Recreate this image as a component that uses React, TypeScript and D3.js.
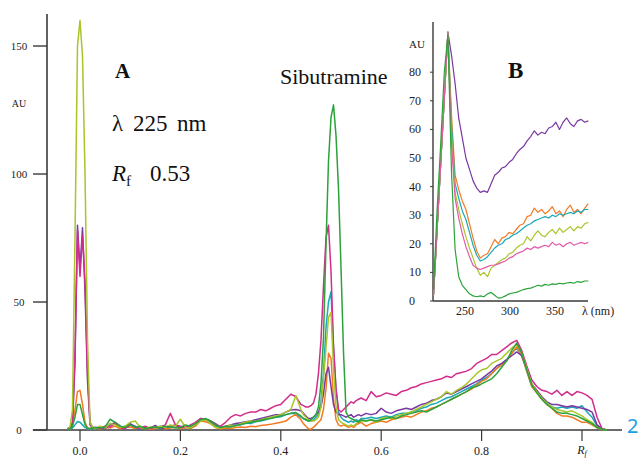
import React from "react";
import * as d3 from "d3";

// ---------- Panel A: densitograms (Rf vs AU) ----------
// Sample positions along the plate (Rf); denser around the two peaks
const rfGrid: number[] = [
  ...d3.range(12).map((i) => -0.025 + i * 0.005), // -0.025 .. 0.03
  ...d3.range(41).map((i) => 0.04 + i * 0.01), // 0.04 .. 0.44
  ...d3.range(24).map((i) => 0.445 + i * 0.005), // 0.445 .. 0.56
  ...d3.range(49).map((i) => 0.57 + i * 0.01), // 0.57 .. 1.05
];

const yellowA = [
  0.5, 1, 8, 75, 150, 160, 146, 100, 35, 3, 1, 0.5,
  1.5, 0.8, 2.5, 2, 1, 1.5, 3, 3.5, 1, 0.5, 1.2, 0.8, 1.5, 1, 2, 1.5, 4.2, 1, 0.8, 2,
  3.5, 4, 2.5, 1, 0.8, 1.2, 2, 1.5, 2.5, 3, 3.5, 3.2, 4, 4.5, 5, 5.5, 6, 7, 8, 13.5, 8,
  6, 5, 4, 3.5, 3.5, 4, 5, 9, 20, 32, 44, 46, 24, 9, 4, 3, 2.5, 2, 1.5, 2, 1.5, 2.5, 3, 3.5,
  3.5, 4, 3, 4.5, 5, 4.5, 5.5, 6, 6.5, 7, 8, 9, 10, 11, 12, 13, 15, 14, 15.5, 16.5,
  18, 20, 22, 23.5, 24, 26, 27, 28, 30, 32, 33.5, 30, 24, 18, 15, 12.5, 10.5, 9, 8, 7.5,
  7, 7.5, 6.5, 5.5, 4, 3, 1, 0.3, 0,
];
const magentaA = [
  0.5, 1, 3, 30, 78, 60, 76, 58, 22, 3, 1, 0.5,
  0.8, 1.5, 1.2, 2.5, 1, 0.5, 2, 1, 0.8, 1.5, 0.5, 1, 1.2, 2, 6.5, 2, 1.5, 1, 2, 3,
  4.5, 4, 3.5, 2, 1.5, 3, 5, 6, 5.5, 6.5, 7, 7, 8, 7.5, 8.5, 9.5, 10, 12, 14, 13, 10,
  9.5, 9, 9, 9.5, 10.5, 14, 22, 35, 56, 75, 80, 62, 33, 16, 8, 7, 8, 9, 10, 11, 10.5, 11.5, 12, 12.5,
  11.5, 15, 13, 13.5, 14.5, 14, 13.5, 15, 15.5, 16.5, 17, 18, 18.5, 19, 19.5, 20, 21, 20.5, 22, 22.5,
  23, 24, 26, 27, 28, 29.5, 29.5, 31, 32.5, 34, 35, 31, 25, 19.5, 17, 15.5, 15, 14, 15.5, 13.5,
  15, 13.5, 15, 14.5, 13.5, 12, 5, 0.5, 0,
];
const purpleA = [
  0.3, 0.8, 2, 26, 80, 63, 79, 54, 19, 2, 0.8, 1,
  1, 0.5, 2, 3, 1.5, 0.8, 2.5, 1.2, 0.5, 1, 0.8, 1.8, 0.5, 1, 1.5, 2, 1, 1.5, 0.8, 2,
  4.5, 4.2, 3.5, 2.5, 1, 1.5, 2, 2.5, 2.8, 3.2, 3.5, 4, 4.5, 5, 5.5, 6, 6, 7, 7.8, 8, 7.5,
  6.5, 5.5, 4.5, 4.5, 5, 6, 7, 9, 14, 22, 24.5, 17, 10, 7, 6, 6, 5.5, 5, 5.5, 6, 5, 5.5, 6, 5.5,
  6.5, 6, 6.5, 8.5, 7, 6.5, 7.5, 8, 8.5, 8, 9, 10, 10.5, 11.5, 12, 13, 14.5, 14, 15, 16,
  17, 18, 19, 20, 21.5, 23, 25, 26, 27.5, 29, 30.5, 29, 24, 18, 15.5, 13, 11, 10, 10, 9.5,
  9, 9.5, 9, 8.5, 8, 7, 2, 0.5, 0,
];
const orangeA = [
  0.3, 0.5, 2, 8, 15, 15.5, 10, 3, 0.8, 0.5, 1.2, 0.8,
  0.5, 1, 0.8, 1.5, 0.5, 1, 1.2, 0.6, 1, 0.8, 0.3, 0.6, 1, 0.5, 0.8, 1.2, 0.5, 1, 0.6, 1.5,
  3.5, 3.2, 2.5, 1, 0.5, 0.8, 0.6, 1, 1.2, 1, 1.5, 1.3, 1.8, 2, 2.2, 2.6, 3, 3.5, 5, 6, 4,
  2.5, 1.5, 0.5, 0.3, 1, 2, 3, 4, 8, 16, 30, 28, 12, 4, 2, 1.5, 2, 1.5, 1, 1.5, 1, 2, 2.5, 3,
  1.5, 2.5, 3, 3.5, 3, 4, 4.5, 5, 5.5, 5, 6, 7, 7.5, 8.5, 9, 10, 11, 12, 13, 14,
  15, 16, 17.5, 19, 20, 22, 24, 25.5, 27, 30, 32.5, 29, 23, 17, 14.5, 12, 10, 8.5, 6.5, 5.5,
  5.5, 5, 4, 3, 3, 2, 0.8, 0.2, 0,
];
const greenA = [
  0.3, 0.5, 1.5, 5, 10, 10, 6, 2, 0.8, 0.5, 0.8, 1,
  0.8, 1.2, 4.2, 3, 1.5, 1, 2, 1, 1.5, 0.5, 1, 1.2, 0.8, 1.5, 1.2, 0.8, 1, 2, 1.5, 2.5,
  4, 4.5, 3.5, 2, 1, 1.5, 1.2, 1.8, 2.2, 2.5, 3, 3.4, 3.8, 4.2, 4.5, 5, 5.5, 6, 6.5, 6.8, 5.5,
  4.5, 4, 3.5, 4, 5, 6, 9, 18, 36, 72, 105, 122, 127, 115, 94, 63, 30, 7, 5, 4.5, 4, 3.5, 3, 4,
  3.5, 4, 3.5, 4, 4.5, 5, 4.5, 5.5, 6, 6.5, 7, 7.5, 7, 8, 9, 10, 11, 12, 13, 14,
  15, 16.5, 17, 18, 19, 20, 22, 24.5, 27, 31, 34, 30, 23.5, 17.5, 14.5, 12, 10, 8.5, 7, 6.5,
  6.5, 6, 5.5, 4.5, 3.5, 2.5, 1, 0.3, 0,
];
const tealA = [
  0.2, 0.4, 0.8, 2, 3.3, 3, 2, 1, 0.5, 0.3, 0.5, 0.6,
  0.6, 1, 2.5, 2.2, 0.8, 1.5, 2.2, 1.5, 0.5, 1.2, 0.6, 1, 1.5, 0.8, 1, 1.4, 1.2, 0.8, 1.5, 2,
  4, 4.2, 3, 1.5, 1.2, 0.8, 1.5, 2, 2, 2.8, 2.5, 3.2, 3.5, 4, 4.8, 5, 5.2, 6, 6.5, 6.2, 5,
  4.5, 4, 3.5, 3.5, 4, 5, 6, 11, 22, 40, 50, 54, 32, 16, 7, 5, 4, 3.5, 3, 3.5, 3, 4, 3.5, 4.5,
  4.5, 5, 4.5, 5, 5.5, 5, 6, 6.5, 6.5, 7, 7.5, 8.5, 9, 10, 10.5, 11.5, 12.5, 13, 14, 15,
  16, 17, 18, 19.5, 20.5, 22, 24, 25.5, 27.5, 30, 32, 29, 23, 17, 15, 12.5, 10.5, 9, 8.5, 9,
  8.5, 9, 8.5, 9.5, 7, 5, 1.5, 0.3, 0,
];

const yTicksA = [0, 50, 100, 150];
const xTicksA = [0, 0.2, 0.4, 0.6, 0.8];
const xTickLabelsA = ["0.0", "0.2", "0.4", "0.6", "0.8"];

// ---------- Panel B: UV spectra (λ vs AU) ----------
const lambdaGrid: number[] = d3.range(44).map((i) => 215 + i * 4); // 215 .. 387 nm

const purpleB = [
  2, 25, 48, 71, 94,
  86, 76, 64, 57, 50, 46, 42, 39.5, 38, 38.5, 38, 41, 44, 45, 46.5, 47, 48.5, 49.5, 51.5, 53,
  54, 56, 57.5, 59.5, 58, 59, 58.5, 60.5, 61, 62.5, 60, 62.5, 64, 62, 61, 63, 63.5, 62.5, 63,
];
const orangeB = [
  2, 25, 48, 71, 94,
  65, 44, 39, 35, 32, 27, 22, 17.5, 15, 16, 16.5, 19, 21.5, 20, 22, 22.5, 24, 23.5, 25, 26.5,
  27, 29.5, 30, 32.5, 31, 32, 30.5, 31.5, 33, 30.5, 31.5, 29.5, 32, 33.5, 31, 32, 30.5, 32.5, 34,
];
const tealB = [
  2, 25, 48, 71, 94,
  62, 41, 36, 31.5, 28.5, 24, 19.5, 16, 14, 14.5, 15.5, 17, 18.5, 19.5, 20, 21.5, 22, 23, 23.5, 24.5,
  25.5, 26.5, 27, 28, 28.5, 29, 29.5, 29, 30, 29.5, 30.5, 30, 30.5, 31, 30.5, 31.5, 31, 32, 32,
];
const yellowB = [
  2, 25, 48, 71, 94,
  58, 38, 32, 27, 22.5, 18.5, 15, 11.5, 9, 10, 8.5, 11.5, 12.5, 13.5, 14.5, 15, 16.5, 17, 18.5, 19.5,
  20, 22.5, 21, 23, 24.5, 23, 22.5, 24, 25, 23.5, 25.5, 24, 25, 26, 24.5, 26, 25.5, 27, 27.5,
];
const pinkB = [
  2, 25, 48, 71, 94,
  55, 36, 29, 23.5, 19, 15.5, 12.5, 11.5, 11, 11.5, 12, 12.5, 12.5, 13, 13.5, 14, 15, 15.5, 16.5, 17,
  17.5, 18.5, 18, 19, 18.5, 19, 19.5, 19, 20.5, 19.5, 20, 19, 20, 20.5, 19.5, 20, 20.5, 20, 20.5,
];
const greenB = [
  4, 32, 55, 80, 93,
  45, 18, 8.5, 5.5, 4, 2.5, 1.8, 1.5, 1.8, 1.5, 2.5, 3, 2, 1, 1.2, 1.8, 2.5, 2.8, 3, 3.5,
  4, 4.3, 4.5, 5, 5.5, 5.2, 5.8, 5.5, 6, 5.8, 6.2, 6, 6.3, 6.5, 6.2, 6.8, 6.5, 7, 7,
];

const yTicksB = [0, 10, 20, 30, 40, 50, 60, 70, 80];
const xTicksB = [250, 300, 350];

const SERIF = '"Liberation Serif", "Times New Roman", serif';

const C = {
  yellow: "#a9c52a",
  magenta: "#d32d8c",
  purple: "#7a38a2",
  orange: "#f47a22",
  green: "#2ba23a",
  teal: "#1aa8b8",
  pink: "#e25aa6",
  axis: "#3a3a3a",
};

function zip(xs: number[], ys: number[]): [number, number][] {
  const n = Math.min(xs.length, ys.length);
  const out: [number, number][] = [];
  for (let i = 0; i < n; i++) out.push([xs[i], ys[i]]);
  return out;
}

export default function App() {
  // Panel A scales
  const x = d3.scaleLinear().domain([0, 1]).range([80, 582]);
  const y = d3.scaleLinear().domain([0, 150]).range([430, 46]);
  const lineA = d3
    .line<[number, number]>()
    .x((d) => x(d[0]))
    .y((d) => y(d[1]));

  // Panel B scales
  const xi = d3.scaleLinear().domain([250, 350]).range([465, 555]);
  const yi = d3.scaleLinear().domain([0, 80]).range([301, 72.2]);
  const lineB = d3
    .line<[number, number]>()
    .x((d) => xi(d[0]))
    .y((d) => yi(d[1]));

  const seriesA = [
    { v: tealA, c: C.teal },
    { v: orangeA, c: C.orange },
    { v: purpleA, c: C.purple },
    { v: magentaA, c: C.magenta },
    { v: yellowA, c: C.yellow },
    { v: greenA, c: C.green },
  ];
  const seriesB = [
    { v: purpleB, c: C.purple },
    { v: orangeB, c: C.orange },
    { v: tealB, c: C.teal },
    { v: yellowB, c: C.yellow },
    { v: pinkB, c: C.pink },
    { v: greenB, c: C.green },
  ];

  return (
    <svg
      width={641}
      height={459}
      style={{ position: "absolute", left: 0, top: 0, background: "#fff" }}
      fontFamily={SERIF}
    >
      <rect x={0} y={0} width={641} height={459} fill="#fff" />

      {/* Panel A axes */}
      <line x1={x(-0.094)} x2={622} y1={y(0)} y2={y(0)} stroke={C.axis} strokeWidth={1.6} />
      <line x1={47} x2={47} y1={14} y2={y(0)} stroke={C.axis} strokeWidth={1.6} />
      {yTicksA.map((t) => (
        <g key={"ya" + t}>
          <line x1={33} x2={47} y1={y(t)} y2={y(t)} stroke={C.axis} strokeWidth={1.4} />
          <text x={19} y={y(t) + 4} fontSize={11} textAnchor="middle" fill="#222">
            {t}
          </text>
        </g>
      ))}
      <text x={19} y={107} fontSize={10} textAnchor="middle" fill="#222">
        AU
      </text>
      {xTicksA.map((t, i) => (
        <g key={"xa" + t}>
          <line x1={x(t)} x2={x(t)} y1={y(0)} y2={y(0) + 11} stroke={C.axis} strokeWidth={1.2} />
          <text x={x(t)} y={455} fontSize={12} textAnchor="middle" fill="#222">
            {xTickLabelsA[i]}
          </text>
        </g>
      ))}
      <line x1={x(1)} x2={x(1)} y1={y(0)} y2={y(0) + 11} stroke={C.axis} strokeWidth={1.2} />
      <text x={x(1)} y={454} fontSize={12} textAnchor="middle" fill="#222">
        <tspan fontStyle="italic">R</tspan>
        <tspan fontSize={8} fontStyle="italic" dy={2}>
          f
        </tspan>
      </text>

      {/* Panel A traces */}
      {seriesA.map((s, i) => (
        <path
          key={"sa" + i}
          d={lineA(zip(rfGrid, s.v)) || ""}
          fill="none"
          stroke={s.c}
          strokeWidth={1.5}
          strokeLinejoin="round"
        />
      ))}

      {/* Panel A annotations */}
      <text x={115} y={78} fontSize={21} fontWeight="bold" fill="#111">
        A
      </text>
      <text x={112} y={131} fontSize={23} fill="#111">
        λ
      </text>
      <text x={133} y={131} fontSize={23} fill="#111">
        225
      </text>
      <text x={177} y={131} fontSize={23} fill="#111">
        nm
      </text>
      <text x={112} y={181} fontSize={23} fill="#111" fontStyle="italic">
        R
      </text>
      <text x={126} y={186} fontSize={15} fill="#111">
        f
      </text>
      <text x={150} y={181} fontSize={23} fill="#111">
        0.53
      </text>
      <text x={280} y={84} fontSize={22} fill="#111">
        Sibutramine
      </text>

      {/* Panel B axes */}
      <line x1={433} x2={433} y1={22} y2={yi(0)} stroke={C.axis} strokeWidth={1.4} />
      <line x1={433} x2={588} y1={yi(0)} y2={yi(0)} stroke={C.axis} strokeWidth={1.4} />
      {yTicksB.map((t) => (
        <g key={"yb" + t}>
          <line x1={430} x2={433} y1={yi(t)} y2={yi(t)} stroke={C.axis} strokeWidth={1} />
          <text x={409} y={yi(t) + 4} fontSize={12} fill="#222">
            {t}
          </text>
        </g>
      ))}
      <text x={409} y={yi(90) + 4} fontSize={11} fill="#222">
        AU
      </text>
      {xTicksB.map((t) => (
        <text key={"xb" + t} x={xi(t)} y={315} fontSize={12} textAnchor="middle" fill="#222">
          {t}
        </text>
      ))}
      <text x={582} y={315} fontSize={12} fill="#222">
        λ (nm)
      </text>
      <text x={508} y={78} fontSize={23} fontWeight="bold" fill="#111">
        B
      </text>

      {/* Panel B spectra */}
      {seriesB.map((s, i) => (
        <path
          key={"sb" + i}
          d={lineB(zip(lambdaGrid, s.v)) || ""}
          fill="none"
          stroke={s.c}
          strokeWidth={1.2}
          strokeLinejoin="round"
        />
      ))}

      <text x={627} y={433} fontSize={20} fill="#1a9fe3" fontFamily='"Noto Sans", sans-serif'>
        2
      </text>
    </svg>
  );
}
